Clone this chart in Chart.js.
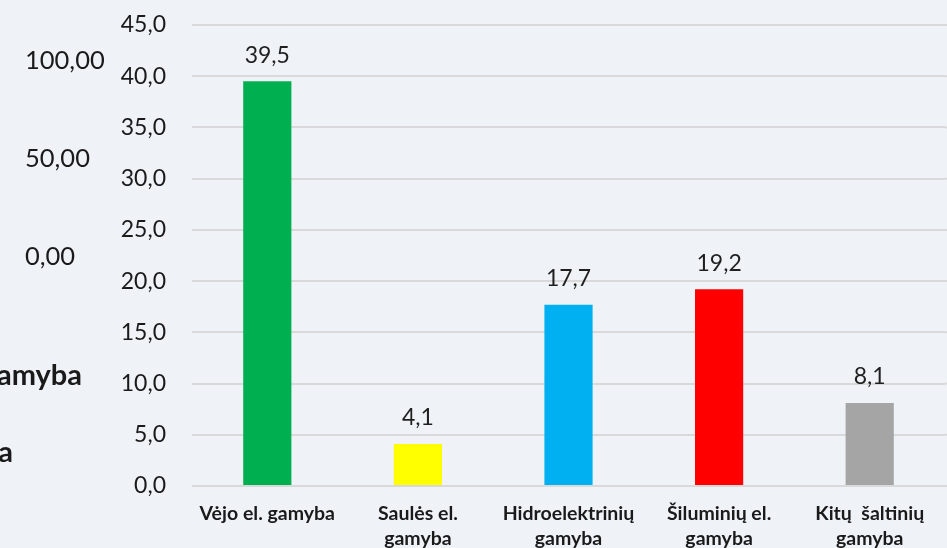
<!DOCTYPE html>
<html>
<head>
<meta charset="utf-8">
<script src="https://cdn.jsdelivr.net/npm/chart.js@4.4.1/dist/chart.umd.min.js"></script>
<style>
  html, body { margin: 0; padding: 0; background: #EFF3F7; overflow: hidden; width: 947px; height: 548px; }
  #wrap { position: relative; width: 947px; height: 560px; }
  canvas { position: absolute; left: 0; top: 0; }
  .ghost { position: absolute; font-family: Lato, "Open Sans", sans-serif; color: #1a1a1a; white-space: nowrap; line-height: 1; }
</style>
</head>
<body>
<div id="wrap"><canvas id="c" width="947" height="560"></canvas></div>
<script>
// ---- data ----
const categories = [
  ["Vėjo el. gamyba"],
  ["Saulės el.", "gamyba"],
  ["Hidroelektrinių", "gamyba"],
  ["Šiluminių el.", "gamyba"],
  ["Kitų  šaltinių", "gamyba"]
];
const values = [39.5, 4.1, 17.7, 19.2, 8.1];
const barColors = ["#00B050", "#FFFF00", "#00B0F0", "#FF0000", "#A5A5A5"];
const yTickMax = 45;
const yTickStep = 5;
// partially hidden text of an overlapped chart on the left
const ghostAxisLabels = ["100,00", "50,00", "0,00"];
const ghostCategoryFragments = ["amyba", "a"];

// ---- ghost overlay text ----
const wrap = document.getElementById('wrap');
const ghostAxisTops = [47, 145, 243];
ghostAxisLabels.forEach((t, i) => {
  const d = document.createElement('div');
  d.className = 'ghost';
  d.textContent = t;
  d.style.left = '25px';
  d.style.top = ghostAxisTops[i] + 'px';
  d.style.fontSize = '25.5px';
  wrap.appendChild(d);
});
const ghostCatTops = [359, 436];
ghostCategoryFragments.forEach((t, i) => {
  const d = document.createElement('div');
  d.className = 'ghost';
  d.textContent = t;
  d.style.right = (947 - (i === 0 ? 82 : 13)) + 'px';
  d.style.top = ghostCatTops[i] + 'px';
  d.style.fontSize = '29px';
  d.style.fontWeight = 'bold';
  wrap.appendChild(d);
});

const fmt = v => Number(v).toFixed(1).replace('.', ',');

const valueLabels = {
  id: 'valueLabels',
  afterDatasetsDraw(chart) {
    const ctx = chart.ctx;
    const meta = chart.getDatasetMeta(0);
    ctx.save();
    ctx.font = '23px Lato, "Open Sans", sans-serif';
    ctx.fillStyle = '#1f1f1f';
    ctx.textAlign = 'center';
    ctx.textBaseline = 'middle';
    meta.data.forEach((bar, i) => {
      ctx.fillText(fmt(values[i]), bar.x, bar.y - 26);
    });
    ctx.restore();
  }
};

new Chart(document.getElementById('c'), {
  type: 'bar',
  data: {
    labels: categories,
    datasets: [{
      data: values,
      backgroundColor: barColors,
      borderWidth: 0,
      barPercentage: 1,
      categoryPercentage: 0.32
    }]
  },
  options: {
    responsive: false,
    animation: false,
    layout: { padding: { top: 25, right: 2, left: 0, bottom: 0 } },
    plugins: { legend: { display: false }, tooltip: { enabled: false } },
    scales: {
      x: {
        grid: { display: false, drawTicks: false },
        border: { display: false },
        ticks: {
          color: '#1a1a1a',
          font: { family: 'Lato, "Open Sans", sans-serif', size: 19.5, weight: 'bold', lineHeight: 1.3 },
          padding: 15,
          maxRotation: 0,
          autoSkip: false
        },
        afterFit(scale) { scale.height = 74; scale.paddingLeft = 0; scale.paddingRight = 0; }
      },
      y: {
        min: 0,
        max: yTickMax,
        grid: { color: '#D9D9D9', lineWidth: 2, drawTicks: false },
        border: { display: false },
        ticks: {
          stepSize: yTickStep,
          color: '#1a1a1a',
          font: { family: 'Lato, "Open Sans", sans-serif', size: 23 },
          padding: 26,
          callback: v => fmt(v)
        },
        afterFit(scale) { scale.width = 192; scale.paddingTop = 0; scale.paddingBottom = 0; }
      }
    }
  },
  plugins: [valueLabels, {
    id: 'gridToEdge',
    beforeDatasetsDraw(chart) {
      const { ctx, chartArea, scales } = chart;
      ctx.save();
      ctx.strokeStyle = '#D9D9D9';
      ctx.lineWidth = 2;
      scales.y.ticks.forEach(t => {
        const y = scales.y.getPixelForValue(t.value);
        ctx.beginPath();
        ctx.moveTo(chartArea.right, y);
        ctx.lineTo(chart.width, y);
        ctx.stroke();
      });
      ctx.restore();
    }
  }]
});
</script>
</body>
</html>
